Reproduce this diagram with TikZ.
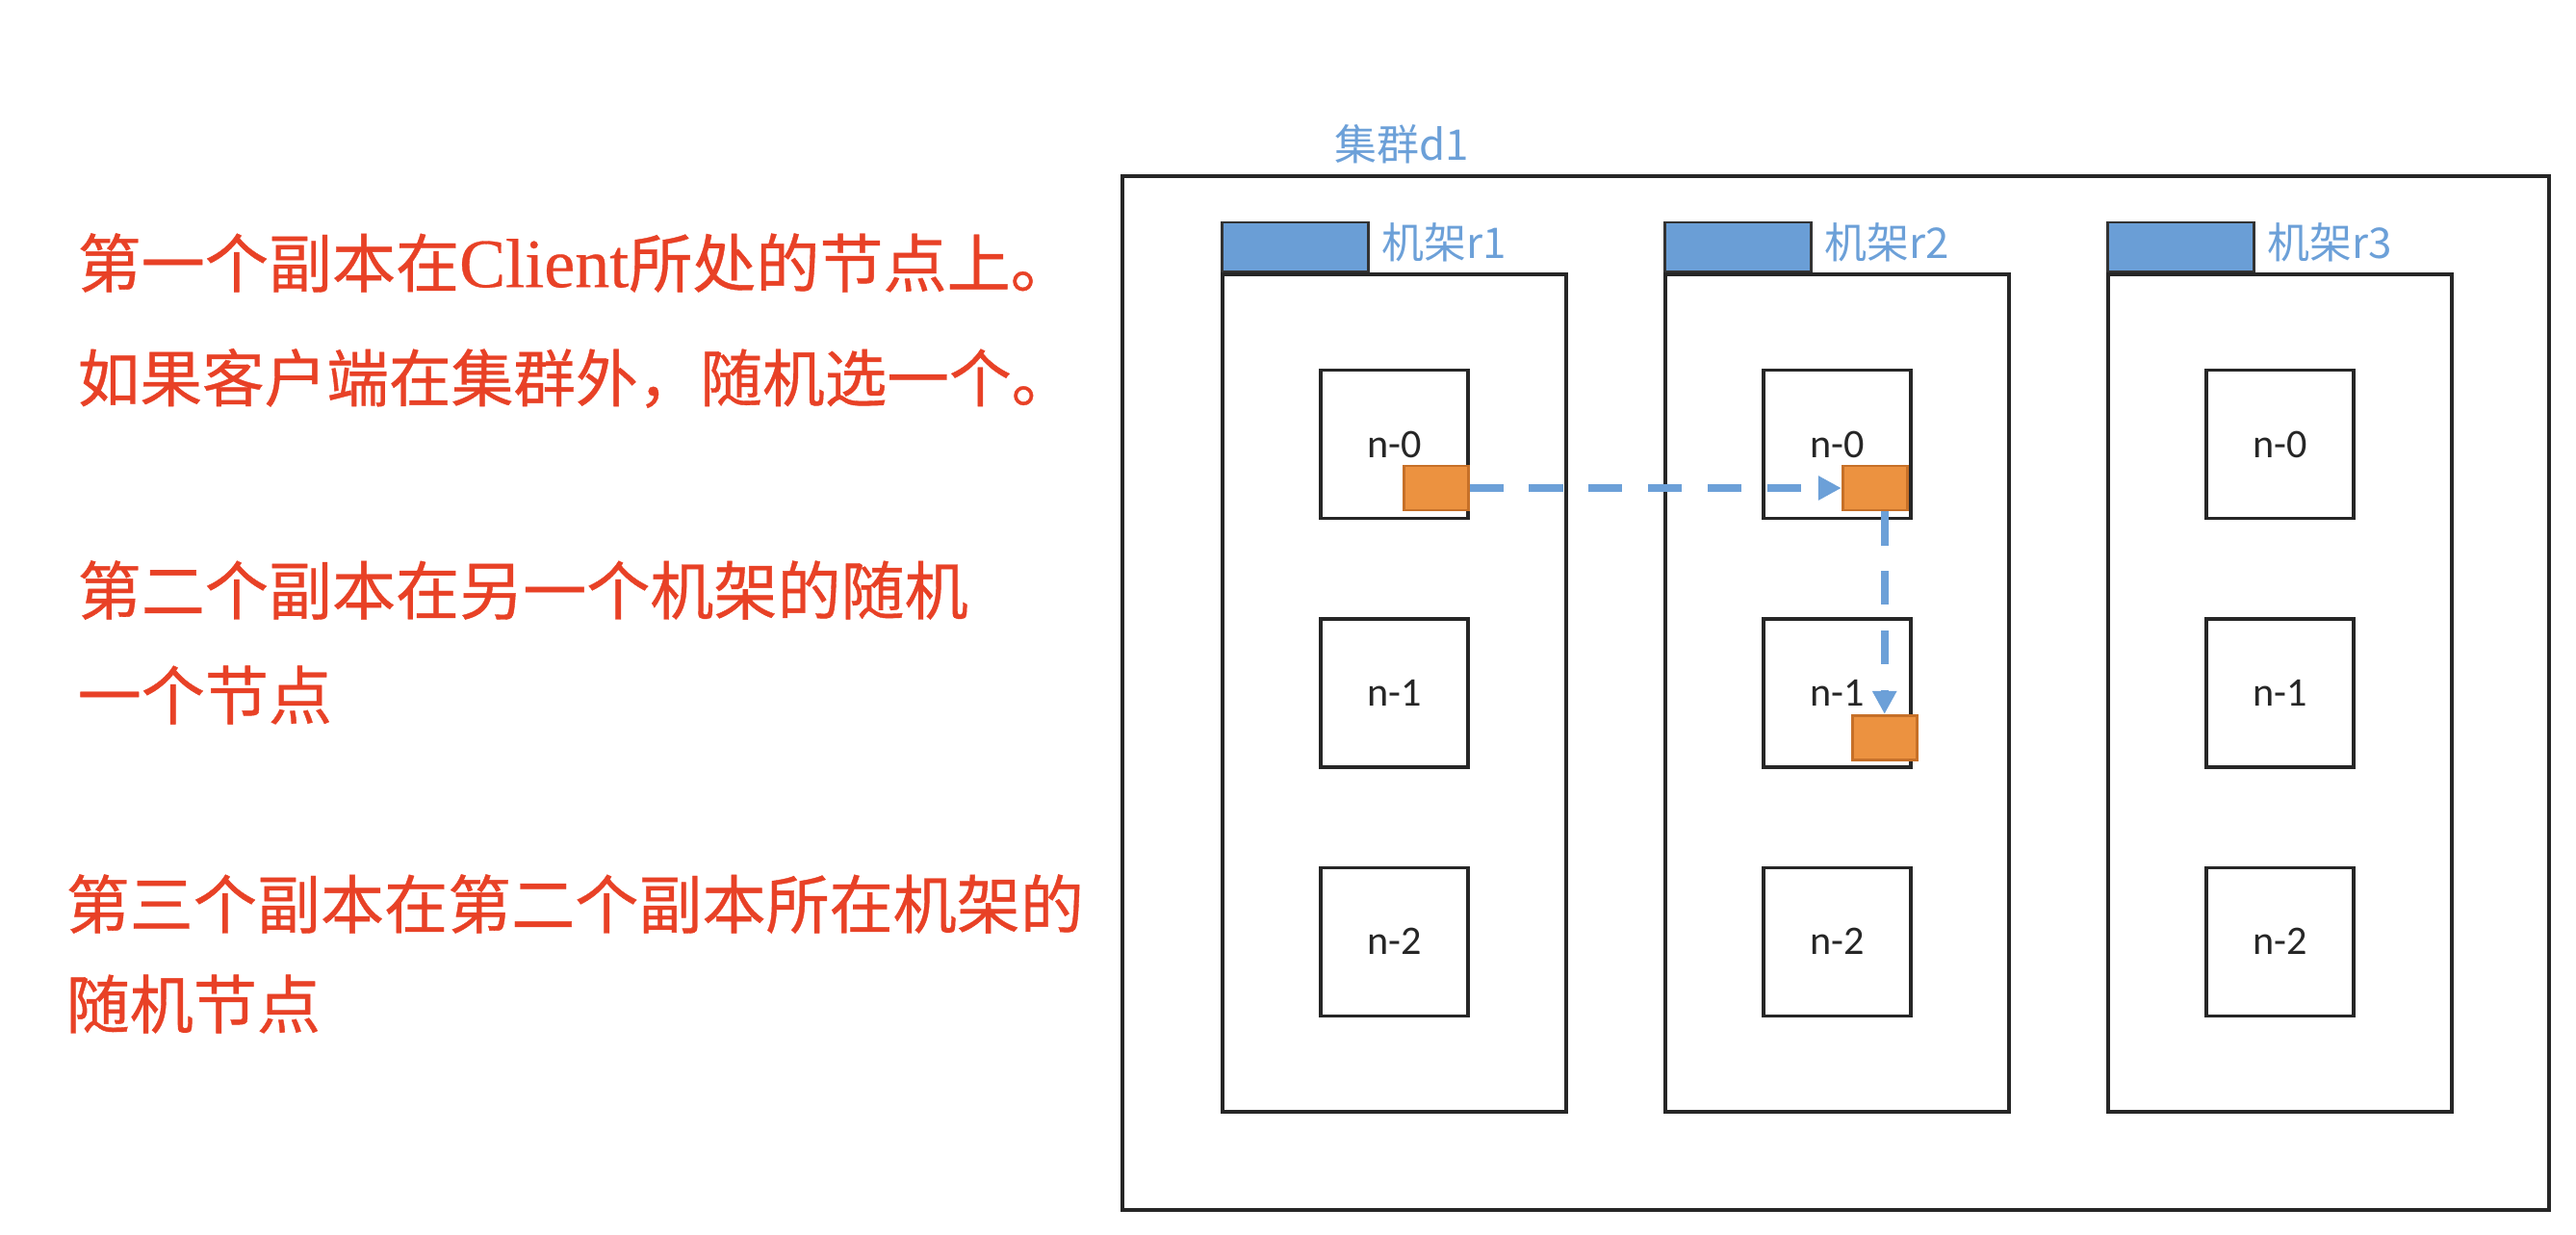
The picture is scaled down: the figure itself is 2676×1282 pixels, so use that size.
\documentclass[tikz,border=0pt]{standalone}
\usepackage{fontspec}
\setmainfont{Noto Sans CJK SC}
\newfontfamily\rulefont[FakeBold=0.6]{Noto Sans CJK SC}
\newfontfamily\clientfont[FakeBold=0.4]{Liberation Serif}
\newfontfamily\hostfont{Carlito}
\usetikzlibrary{arrows.meta,positioning}

\begin{document}
\begin{tikzpicture}[x=0.1mm,y=-0.1mm,line join=miter,
  ruletext/.style={anchor=west,inner sep=0pt,text=rulered,font=\rulefont\fontsize{18.4}{20}\selectfont},
  rulebig/.style={ruletext,font=\rulefont\fontsize{18.8}{21}\selectfont},
  bluelabel/.style={anchor=west,inner sep=0pt,text=labelblue,font=\fontsize{12.5}{14}\selectfont},
  clusterbox/.style={draw=black!85,line width=0.9pt,minimum width=148.2mm,minimum height=107.4mm,inner sep=0pt},
  rackbody/.style={draw=black!85,line width=0.9pt,fill=white,minimum width=35.7mm,minimum height=87mm,inner sep=0pt},
  racktab/.style={draw=black!80,line width=0.8pt,fill=tabblue,minimum width=15.2mm,minimum height=5.1mm,inner sep=0pt},
  hostbox/.style={draw=black!85,line width=0.9pt,fill=white,minimum width=15.3mm,minimum height=15.4mm,inner sep=0pt,
    text=black!85,font=\hostfont\fontsize{12}{14}\selectfont},
  replica/.style={draw=replicaedge,line width=0.8pt,fill=replicafill,minimum width=6.7mm,minimum height=4.6mm,inner sep=0pt},
  copyarrow/.style={draw=labelblue,line width=2.3pt,dash pattern=on 10pt off 7.6pt,
    -{Triangle[length=6.8pt,width=6.8pt]}}]
\definecolor{rulered}{RGB}{232,65,38}\definecolor{labelblue}{RGB}{108,160,216}
\definecolor{tabblue}{RGB}{106,158,214}
\definecolor{replicafill}{RGB}{236,146,64}\definecolor{replicaedge}{RGB}{198,112,40}
\useasboundingbox (0,0) rectangle (2676,1282);
% placement rules, left
\node[rulebig] (rule1a) at (80,273) {第一个副本在{\clientfont\fontsize{20.5}{21}\selectfont Client}所处的节点上。};
\node[ruletext] (rule1b) at (80,393) {如果客户端在集群外，随机选一个。};
\node[rulebig] (rule2a) at (80,613) {第二个副本在另一个机架的随机};
\node[rulebig] (rule2b) at (80,722) {一个节点};
\node[rulebig] (rule3a) at (68,939) {第三个副本在第二个副本所在机架的};
\node[rulebig] (rule3b) at (68,1043) {随机节点};
% cluster d1 with racks r1..r3, three hosts each
\node[clusterbox] (cluster) at (1907,720) {};
\node[bluelabel] (clabel) at (1386,150) {集群d1};
\foreach \i/\cx in {1/1448.5, 2/1908.5, 3/2368.5}{
  \node[rackbody] (rack\i) at (\cx,720) {};
  \node[racktab,anchor=south west] (tab\i) at (rack\i.north west) {};
  \node[bluelabel] (rlabel\i) at ([xshift=1.2mm,yshift=0.5mm]tab\i.east) {机架r\i};
  \node[hostbox] (n1r\i) at (rack\i.center) {n-1};
  \node[hostbox,above=10.1mm of n1r\i] (n0r\i) {n-0};
  \node[hostbox,below=10.1mm of n1r\i] (n2r\i) {n-2};
}
% the three replicas
\node[replica,anchor=south east] (copy1) at ([yshift=0.9mm]n0r1.south east) {};
\node[replica,anchor=south east] (copy2) at ([xshift=-0.4mm,yshift=0.9mm]n0r2.south east) {};
\node[replica,anchor=south east] (copy3) at ([xshift=0.6mm,yshift=0.8mm]n1r2.south east) {};
\draw[copyarrow] (copy1.east) -- (copy2.west);
\draw[copyarrow] (copy2.south -| copy3.north) -- (copy3.north);
\end{tikzpicture}
\end{document}
